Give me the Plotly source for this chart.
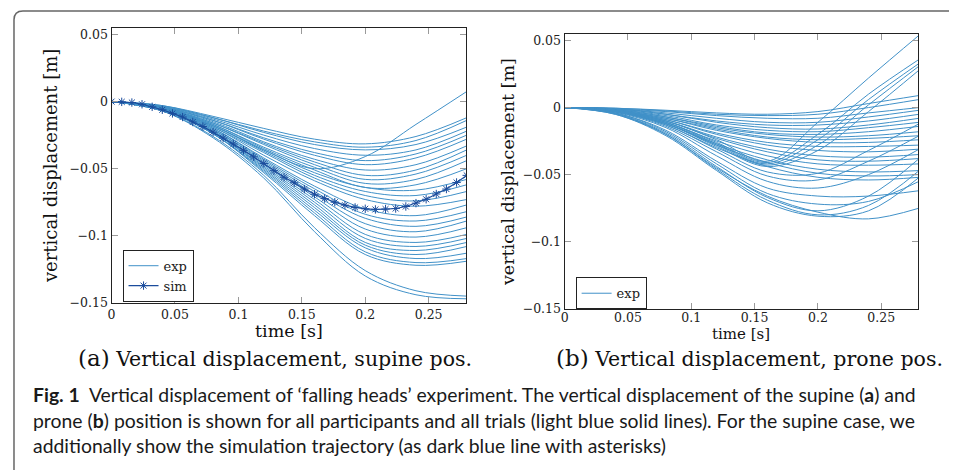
import plotly.graph_objects as go

# ---------------- data ----------------
T_GRID = [0.0, 0.04, 0.08, 0.12, 0.16, 0.20, 0.24, 0.28]

# (a) supine position, experimental trajectories [m]
SUP_U1 = [0, -0.003, -0.011, -0.020, -0.028, -0.0315, -0.026, -0.012]
SUP_U2 = [0, -0.003, -0.012, -0.022, -0.030, -0.034, -0.029, -0.014]
SUP_U3 = [0, -0.0035, -0.012, -0.023, -0.032, -0.036, -0.032, -0.019]
SUP_U4 = [0, -0.0035, -0.013, -0.025, -0.035, -0.040, -0.036, -0.022]
SUP_U5 = [0, -0.004, -0.014, -0.027, -0.038, -0.044, -0.039, -0.025]
SUP_U6 = [0, -0.004, -0.014, -0.028, -0.040, -0.047, -0.042, -0.028]
SUP_U7 = [0, -0.004, -0.015, -0.030, -0.043, -0.051, -0.047, -0.033]
SUP_U8 = [0, -0.0045, -0.016, -0.031, -0.045, -0.055, -0.051, -0.036]
SUP_U9 = [0, -0.0045, -0.016, -0.032, -0.047, -0.058, -0.054, -0.040]
SUP_U10 = [0, -0.0045, -0.017, -0.034, -0.049, -0.061, -0.058, -0.044]
SUP_U11 = [0, -0.005, -0.017, -0.035, -0.051, -0.064, -0.062, -0.050]
SUP_X1 = [0, -0.005, -0.018, -0.036, -0.050, -0.041, -0.017, 0.0075]
SUP_M1 = [0, -0.005, -0.018, -0.036, -0.053, -0.064, -0.066, -0.058]
SUP_M2 = [0, -0.005, -0.018, -0.037, -0.055, -0.067, -0.070, -0.062]
SUP_M3 = [0, -0.005, -0.019, -0.038, -0.057, -0.070, -0.074, -0.067]
SUP_M4 = [0, -0.0055, -0.019, -0.040, -0.059, -0.073, -0.078, -0.073]
SUP_M5 = [0, -0.0055, -0.020, -0.042, -0.063, -0.080, -0.085, -0.077]
SUP_M6 = [0, -0.0055, -0.020, -0.043, -0.065, -0.084, -0.089, -0.082]
SUP_M7 = [0, -0.006, -0.021, -0.044, -0.067, -0.087, -0.093, -0.086]
SUP_M8 = [0, -0.006, -0.021, -0.045, -0.069, -0.091, -0.097, -0.089]
SUP_M9 = [0, -0.006, -0.022, -0.046, -0.071, -0.095, -0.101, -0.094]
SUP_M10 = [0, -0.006, -0.022, -0.047, -0.073, -0.099, -0.105, -0.099]
SUP_M11 = [0, -0.006, -0.023, -0.048, -0.075, -0.102, -0.108, -0.102]
SUP_M12 = [0, -0.0065, -0.023, -0.049, -0.077, -0.105, -0.111, -0.105]
SUP_M13 = [0, -0.0065, -0.023, -0.050, -0.079, -0.107, -0.114, -0.108]
SUP_M14 = [0, -0.0065, -0.024, -0.051, -0.081, -0.109, -0.117, -0.113]
SUP_M15 = [0, -0.0065, -0.024, -0.052, -0.083, -0.112, -0.120, -0.117]
SUP_M16 = [0, -0.0065, -0.024, -0.053, -0.085, -0.114, -0.122, -0.119]
SUP_L1 = [0, -0.007, -0.026, -0.055, -0.094, -0.126, -0.141, -0.145]
SUP_L2 = [0, -0.007, -0.027, -0.057, -0.097, -0.130, -0.144, -0.147]

# (a) simulation trajectory
SIM_T = [0.000, 0.008, 0.016, 0.024, 0.032, 0.040, 0.048, 0.056, 0.064, 0.072,
         0.080, 0.088, 0.096, 0.104, 0.112, 0.120, 0.128, 0.136, 0.144, 0.152,
         0.160, 0.168, 0.176, 0.184, 0.192, 0.200, 0.208, 0.216, 0.224, 0.232,
         0.240, 0.248, 0.256, 0.264, 0.272, 0.280]
SIM_Y = [0.0, -0.0002, -0.0007, -0.0020, -0.0039, -0.0061, -0.0088, -0.0115, -0.0152, -0.0186,
         -0.0228, -0.0272, -0.0316, -0.0363, -0.0412, -0.0461, -0.0515, -0.0564, -0.0605, -0.0652,
         -0.0691, -0.0723, -0.0750, -0.0772, -0.0789, -0.0799, -0.0804, -0.0801, -0.0797, -0.0782,
         -0.0757, -0.0728, -0.0689, -0.0652, -0.0603, -0.0550]

# (b) prone position, experimental trajectories [m]
PRO_P1 = [0, -0.0005, -0.002, -0.004, -0.005, -0.003, 0.003, 0.009]
PRO_P2 = [0, -0.0005, -0.0025, -0.005, -0.006, -0.005, 0.000, 0.006]
PRO_P3 = [0, -0.001, -0.003, -0.006, -0.008, -0.008, -0.004, 0.000]
PRO_P4 = [0, -0.001, -0.004, -0.008, -0.011, -0.011, -0.007, -0.002]
PRO_P5 = [0, -0.001, -0.005, -0.010, -0.013, -0.013, -0.010, -0.005]
PRO_P6 = [0, -0.001, -0.005, -0.011, -0.015, -0.016, -0.013, -0.008]
PRO_P7 = [0, -0.0015, -0.006, -0.013, -0.017, -0.018, -0.015, -0.011]
PRO_P8 = [0, -0.0015, -0.007, -0.014, -0.019, -0.020, -0.018, -0.014]
PRO_P9 = [0, -0.0015, -0.007, -0.015, -0.020, -0.022, -0.021, -0.018]
PRO_P10 = [0, -0.002, -0.008, -0.016, -0.022, -0.024, -0.023, -0.021]
PRO_P11 = [0, -0.002, -0.008, -0.017, -0.023, -0.026, -0.026, -0.024]
PRO_P12 = [0, -0.002, -0.009, -0.019, -0.026, -0.029, -0.029, -0.028]
PRO_P13 = [0, -0.002, -0.009, -0.020, -0.028, -0.032, -0.033, -0.031]
PRO_P14 = [0, -0.0025, -0.010, -0.022, -0.031, -0.036, -0.037, -0.035]
PRO_P15 = [0, -0.0025, -0.010, -0.023, -0.033, -0.039, -0.040, -0.038]
PRO_P16 = [0, -0.0025, -0.011, -0.025, -0.036, -0.042, -0.043, -0.042]
PRO_P17 = [0, -0.003, -0.012, -0.027, -0.039, -0.046, -0.048, -0.047]
PRO_P18 = [0, -0.003, -0.012, -0.028, -0.041, -0.049, -0.051, -0.050]
PRO_P19 = [0, -0.003, -0.013, -0.030, -0.044, -0.052, -0.054, -0.052]
PRO_R1 = [0, -0.002, -0.010, -0.024, -0.040, -0.011, 0.022, 0.054]
PRO_R2 = [0, -0.0025, -0.011, -0.026, -0.041, -0.020, 0.010, 0.036]
PRO_R3 = [0, -0.0025, -0.011, -0.027, -0.042, -0.024, 0.006, 0.033]
PRO_R4 = [0, -0.003, -0.012, -0.028, -0.043, -0.028, 0.002, 0.031]
PRO_R5 = [0, -0.003, -0.012, -0.029, -0.044, -0.032, -0.003, 0.028]
PRO_S1 = [0, -0.003, -0.013, -0.031, -0.048, -0.049, -0.032, -0.012]
PRO_S2 = [0, -0.003, -0.014, -0.033, -0.051, -0.054, -0.040, -0.021]
PRO_S3 = [0, -0.0035, -0.015, -0.036, -0.055, -0.060, -0.050, -0.031]
PRO_Q1 = [0, -0.004, -0.017, -0.040, -0.060, -0.066, -0.066, -0.062]
PRO_Q2 = [0, -0.004, -0.018, -0.042, -0.064, -0.072, -0.070, -0.055]
PRO_Q3 = [0, -0.0045, -0.019, -0.044, -0.067, -0.077, -0.066, -0.038]
PRO_Q4 = [0, -0.0045, -0.020, -0.046, -0.069, -0.080, -0.073, -0.047]
PRO_Q5 = [0, -0.005, -0.021, -0.047, -0.071, -0.081, -0.077, -0.052]
PRO_Q6 = [0, -0.005, -0.020, -0.045, -0.066, -0.078, -0.083, -0.075]

X_TICKS = [0, 0.05, 0.1, 0.15, 0.2, 0.25]
X_TICK_LABELS = ["0", "0.05", "0.1", "0.15", "0.2", "0.25"]
Y_TICKS = [-0.15, -0.1, -0.05, 0, 0.05]
Y_TICK_LABELS = ["\u22120.15", "\u22120.1", "\u22120.05", "0", "0.05"]

SUPINE_CURVES = [SUP_U1, SUP_U2, SUP_U3, SUP_U4, SUP_U5, SUP_U6, SUP_U7, SUP_U8, SUP_U9,
                 SUP_U10, SUP_U11, SUP_X1, SUP_M1, SUP_M2, SUP_M3, SUP_M4, SUP_M5, SUP_M6,
                 SUP_M7, SUP_M8, SUP_M9, SUP_M10, SUP_M11, SUP_M12, SUP_M13, SUP_M14,
                 SUP_M15, SUP_M16, SUP_L1, SUP_L2]
PRONE_CURVES = [PRO_P1, PRO_P2, PRO_P3, PRO_P4, PRO_P5, PRO_P6, PRO_P7, PRO_P8, PRO_P9,
                PRO_P10, PRO_P11, PRO_P12, PRO_P13, PRO_P14, PRO_P15, PRO_P16, PRO_P17,
                PRO_P18, PRO_P19, PRO_R1, PRO_R2, PRO_R3, PRO_R4, PRO_R5, PRO_S1, PRO_S2,
                PRO_S3, PRO_Q1, PRO_Q2, PRO_Q3, PRO_Q4, PRO_Q5, PRO_Q6]

# ---------------- style ----------------
# the page body has an 8px margin, so the figure is 8px smaller and
# every page-pixel position is shifted by that offset
OFF = 8
W, H = 957 - OFF, 470 - OFF
EXP_COLOR = "#4191c8"
SIM_COLOR = "#1b4c9c"
SERIF = "DejaVu Serif"
SANS = "Lato"


def px(x):
    return (x - OFF) / W


def py(y):
    return 1 - (y - OFF) / H


fig = go.Figure()

for i, ys in enumerate(SUPINE_CURVES):
    fig.add_trace(go.Scatter(
        x=T_GRID, y=ys, mode="lines", name="exp",
        line=dict(color=EXP_COLOR, width=1, shape="spline", smoothing=1.0),
        legendgroup="exp_a", showlegend=(i == 0), legend="legend",
        xaxis="x", yaxis="y", hoverinfo="skip"))

fig.add_trace(go.Scatter(
    x=SIM_T, y=SIM_Y, mode="lines+markers", name="sim",
    line=dict(color=SIM_COLOR, width=1.2),
    marker=dict(symbol="asterisk-open", size=7, color=SIM_COLOR,
                line=dict(color=SIM_COLOR, width=1.0)),
    legend="legend", xaxis="x", yaxis="y", hoverinfo="skip"))

for i, ys in enumerate(PRONE_CURVES):
    fig.add_trace(go.Scatter(
        x=T_GRID, y=ys, mode="lines", name="exp",
        line=dict(color=EXP_COLOR, width=1, shape="spline", smoothing=1.0),
        legendgroup="exp_b", showlegend=(i == 0), legend="legend2",
        xaxis="x2", yaxis="y2", hoverinfo="skip"))

axis_common = dict(
    ticks="inside", ticklen=6, tickwidth=1.2, tickcolor="#9a9a9a",
    showline=True, linecolor="#222222", linewidth=1.3, mirror="ticks",
    showgrid=False, zeroline=False,
    tickfont=dict(family=SERIF, size=12.5, color="#222222"),
)

fig.update_layout(
    width=W, height=H,
    margin=dict(l=0, r=0, t=0, b=0),
    paper_bgcolor="white", plot_bgcolor="white",
    xaxis=dict(domain=[px(108), px(464)], range=[0, 0.2795], anchor="y",
               tickvals=X_TICKS, ticktext=X_TICK_LABELS, **axis_common),
    yaxis=dict(domain=[py(307), py(27)], range=[-0.15, 0.0551], anchor="x",
               tickvals=Y_TICKS, ticktext=Y_TICK_LABELS, **axis_common),
    xaxis2=dict(domain=[px(563), px(918)], range=[0, 0.2792], anchor="y2",
                tickvals=X_TICKS, ticktext=X_TICK_LABELS, ticklabelstandoff=-3,
                **axis_common),
    yaxis2=dict(domain=[py(313), py(33.5)], range=[-0.15, 0.0548], anchor="x2",
                tickvals=Y_TICKS, ticktext=Y_TICK_LABELS, **axis_common),
    legend=dict(x=px(119), y=py(253), xanchor="left", yanchor="top",
                bordercolor="#222222", borderwidth=1, bgcolor="white",
                font=dict(family=SERIF, size=13, color="#222222"),
                tracegroupgap=0, itemwidth=30),
    legend2=dict(x=px(574), y=py(281), xanchor="left", yanchor="top",
                 bordercolor="#222222", borderwidth=1, bgcolor="white",
                 font=dict(family=SERIF, size=13, color="#222222"),
                 tracegroupgap=0, itemwidth=30),
    showlegend=True,
)

# frame of the figure box
fig.add_shape(type="path", xref="paper", yref="paper",
              path=(f"M 1.02 {py(10)} L {px(19)} {py(10)} "
                    f"Q {px(10)} {py(10)} {px(10)} {py(19)} L {px(10)} -0.02"),
              line=dict(color="#666666", width=1.5))

ann = []
# axis titles
ann.append(dict(x=px(46), y=py(168), text="vertical displacement [m]", textangle=-90,
                font=dict(family=SERIF, size=18, color="#111111")))
ann.append(dict(x=px(506), y=py(174), text="vertical displacement [m]", textangle=-90,
                font=dict(family=SERIF, size=17.5, color="#111111")))
ann.append(dict(x=px(286), y=py(336), text="time [s]",
                font=dict(family=SERIF, size=17.5, color="#111111")))
ann.append(dict(x=px(740), y=py(339), text="time [s]",
                font=dict(family=SERIF, size=15, color="#111111")))
# sub-captions
ann.append(dict(x=px(272), y=py(363),
                text='<span style="font-size:23px">(a)</span> Vertical displacement, supine pos.',
                font=dict(family=SERIF, size=20.5, color="#111111")))
ann.append(dict(x=px(749), y=py(363),
                text='<span style="font-size:23px">(b)</span> Vertical displacement, prone pos.',
                font=dict(family=SERIF, size=20.5, color="#111111")))
# figure caption
CAPTION = [
    "<b>Fig. 1</b>  Vertical displacement of \u2018falling heads\u2019 experiment. The vertical displacement of the supine (<b>a</b>) and",
    "prone (<b>b</b>) position is shown for all participants and all trials (light blue solid lines). For the supine case, we",
    "additionally show the simulation trajectory (as dark blue line with asterisks)",
]
for k, line in enumerate(CAPTION):
    ann.append(dict(x=px(27), y=py(400 + 26.3 * k), text=line, xanchor="left",
                    font=dict(family=SANS, size=19.4, color="#1a1a1a")))

for a in ann:
    a.setdefault("xanchor", "center")
    a.setdefault("yanchor", "middle")
    a.update(xref="paper", yref="paper", showarrow=False)
fig.update_layout(annotations=ann)

fig.write_html("out.html")
